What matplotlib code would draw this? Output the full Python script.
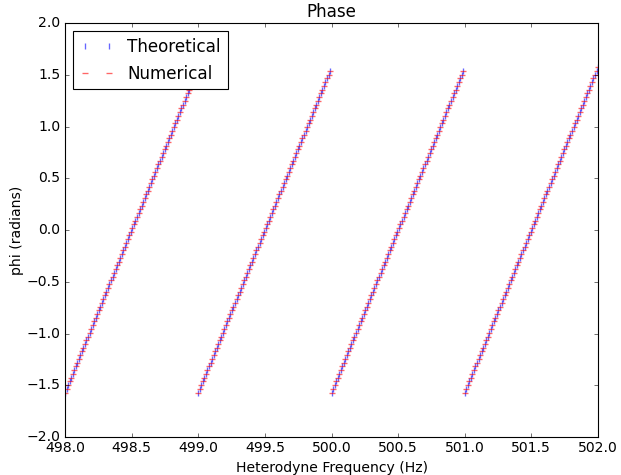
import numpy as np
from matplotlib import pyplot as plt

# start of each wrapped segment (Hz)
seg_starts = [498.0, 499.0, 500.0, 501.0]

# frequency offsets inside one segment (Hz)
offsets = [0.0000, 0.0115, 0.0230, 0.0345, 0.0460, 0.0575, 0.0690, 0.0805, 0.0920, 0.1035,
           0.1150, 0.1265, 0.1380, 0.1495, 0.1610, 0.1725, 0.1840, 0.1955, 0.2070, 0.2185,
           0.2300, 0.2415, 0.2530, 0.2645, 0.2760, 0.2875, 0.2990, 0.3105, 0.3220, 0.3335,
           0.3450, 0.3565, 0.3680, 0.3795, 0.3910, 0.4025, 0.4140, 0.4255, 0.4370, 0.4485,
           0.4600, 0.4715, 0.4830, 0.4945, 0.5060, 0.5175, 0.5290, 0.5405, 0.5520, 0.5635,
           0.5750, 0.5865, 0.5980, 0.6095, 0.6210, 0.6325, 0.6440, 0.6555, 0.6670, 0.6785,
           0.6900, 0.7015, 0.7130, 0.7245, 0.7360, 0.7475, 0.7590, 0.7705, 0.7820, 0.7935,
           0.8050, 0.8165, 0.8280, 0.8395, 0.8510, 0.8625, 0.8740, 0.8855, 0.8970, 0.9085,
           0.9200, 0.9315, 0.9430, 0.9545, 0.9660, 0.9775, 0.9890]

# phase read along one segment (radians)
phases = [-1.571, -1.535, -1.499, -1.462, -1.426, -1.390, -1.354, -1.318, -1.282, -1.246,
          -1.209, -1.173, -1.137, -1.101, -1.065, -1.029, -0.993, -0.957, -0.920, -0.884,
          -0.848, -0.812, -0.776, -0.740, -0.704, -0.668, -0.631, -0.595, -0.559, -0.523,
          -0.487, -0.451, -0.415, -0.379, -0.342, -0.306, -0.270, -0.234, -0.198, -0.162,
          -0.126, -0.090, -0.053, -0.017, 0.019, 0.055, 0.091, 0.127, 0.163, 0.200,
          0.236, 0.272, 0.308, 0.344, 0.380, 0.416, 0.452, 0.489, 0.525, 0.561,
          0.597, 0.633, 0.669, 0.705, 0.741, 0.778, 0.814, 0.850, 0.886, 0.922,
          0.958, 0.994, 1.030, 1.067, 1.103, 1.139, 1.175, 1.211, 1.247, 1.283,
          1.319, 1.356, 1.392, 1.428, 1.464, 1.500, 1.536]

# last sample at the right edge
end_freq = 502.0
end_phase = 1.571

freq = [s + o for s in seg_starts for o in offsets] + [end_freq]
phi = phases * len(seg_starts) + [end_phase]

plt.style.use('classic')
plt.rcParams['font.size'] = 12.6
fig = plt.figure(figsize=(621 / 80, 475 / 80), dpi=80)
ax = fig.add_axes([65 / 621, 38 / 475, 533 / 621, 414 / 475])

ax.plot(freq, phi, 'b|', alpha=0.6, mew=1.2, label='Theoretical')
ax.plot(freq, phi, 'r_', alpha=0.6, mew=1.2, label='Numerical')

ax.set_xlim(498, 502)
ax.set_ylim(-2, 2)
ax.ticklabel_format(useOffset=False)
ax.set_title('Phase')
ax.set_xlabel('Heterodyne Frequency (Hz)')
ax.set_ylabel('phi (radians)', labelpad=2)
ax.legend(loc='upper left')

fig.savefig('out.png', dpi=80)
